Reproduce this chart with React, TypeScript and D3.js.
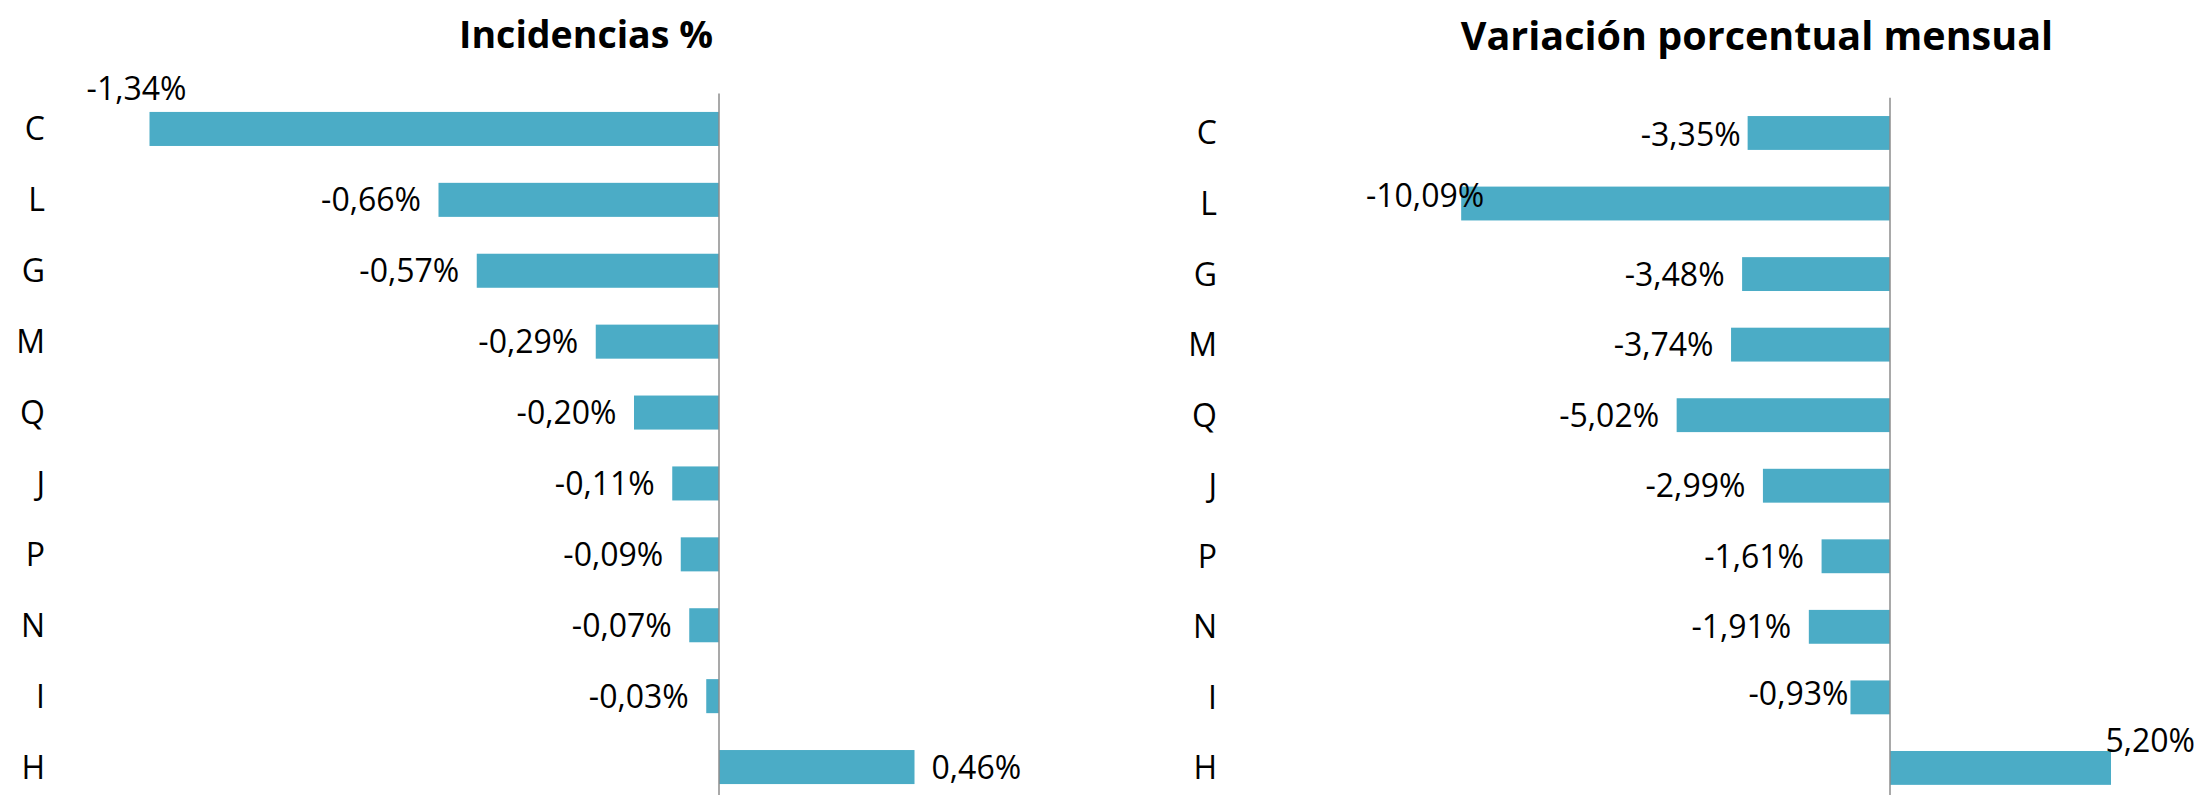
import React from "react";
import * as d3 from "d3";

// sectores, de arriba abajo
const categories = ["C", "L", "G", "M", "Q", "J", "P", "N", "I", "H"];
// incidencias en puntos porcentuales
const incidencias = [-1.34, -0.66, -0.57, -0.29, -0.2, -0.11, -0.09, -0.07, -0.03, 0.46];
// variación mensual en %
const variacion = [-3.35, -10.09, -3.48, -3.74, -5.02, -2.99, -1.61, -1.91, -0.93, 5.2];
const titles = ["Incidencias %", "Variación porcentual mensual"];

const W = 2201;
const H = 795;
const BAR = "#4BACC6";
const AXIS = "#8c8c8c";
const FONT = "'Open Sans', sans-serif";

const locale = d3.formatLocale({
  decimal: ",",
  thousands: ".",
  grouping: [3],
  currency: ["", " €"],
  minus: "-",
});
const fmt = (v: number) => locale.format(".2f")(v) + "%";

type Nudge = { dx: number; dy: number; anchor?: "start" | "end" };

// labels Excel moved by hand (offsets from the bar end / bar centre)
const leftNudges: Record<string, Nudge> = {
  C: { dx: 37, dy: -29, anchor: "end" },
};
const rightNudges: Record<string, Nudge> = {
  C: { dx: -7, dy: 13, anchor: "end" },
  L: { dx: 23, dy: 3.5, anchor: "end" },
  I: { dx: -2, dy: 8, anchor: "end" },
  H: { dx: 84, dy: -16, anchor: "end" },
};

type PanelProps = {
  title: string;
  titleX: number;
  titleY: number;
  titleSize: number;
  values: number[];
  domain: [number, number];
  xRange: [number, number];
  yRange: [number, number];
  labelGap: number;
  nudges: Record<string, Nudge>;
};

function Panel(p: PanelProps) {
  const x = d3.scaleLinear().domain(p.domain).range(p.xRange);
  const y = d3
    .scaleBand<string>()
    .domain(categories)
    .range(p.yRange)
    .paddingInner(0.52)
    .paddingOuter(0.26);
  const bw = y.bandwidth();
  const x0 = x(0);

  return (
    <g>
      <text
        x={p.titleX}
        y={p.titleY}
        textAnchor="middle"
        fontFamily={FONT}
        fontWeight={700}
        fontSize={p.titleSize}
        fill="#000"
      >
        {p.title}
      </text>

      {p.values.map((v, i) => {
        const c = categories[i];
        const y0 = y(c)!;
        return (
          <rect
            key={"b" + c}
            x={Math.min(x(v), x0)}
            y={y0}
            width={Math.abs(x(v) - x0)}
            height={bw}
            fill={BAR}
          />
        );
      })}

      <line x1={x0} x2={x0} y1={p.yRange[0]} y2={p.yRange[1]} stroke={AXIS} strokeWidth={1.5} />

      {categories.map((c) => (
        <text
          key={"c" + c}
          x={x0 - p.labelGap}
          y={y(c)! + bw / 2 + 11.5}
          textAnchor="end"
          fontFamily={FONT}
          fontSize={32}
          fill="#000"
        >
          {c}
        </text>
      ))}

      {p.values.map((v, i) => {
        const c = categories[i];
        const cy = y(c)! + bw / 2;
        const n = p.nudges[c];
        const def: Nudge = v < 0 ? { dx: -17.5, dy: 11.5, anchor: "end" } : { dx: 17, dy: 11.5, anchor: "start" };
        const k = n || def;
        return (
          <text
            key={"v" + c}
            x={x(v) + k.dx}
            y={cy + k.dy}
            textAnchor={k.anchor}
            fontFamily={FONT}
            fontSize={32}
            fill="#000"
          >
            {fmt(v)}
          </text>
        );
      })}
    </g>
  );
}

export default function App() {
  return (
    <svg
      width={W}
      height={H}
      style={{ position: "absolute", left: 0, top: 0, background: "#fff" }}
    >
      <rect width={W} height={H} fill="#fff" />
      <Panel
        title={titles[0]}
        titleX={586}
        titleY={48}
        titleSize={37.5}
        values={incidencias}
        domain={[-1.6, 0.6]}
        xRange={[39, 974]}
        yRange={[93.5, 802.5]}
        labelGap={674}
        nudges={leftNudges}
      />
      <Panel
        title={titles[1]}
        titleX={1757}
        titleY={50}
        titleSize={39.5}
        values={variacion}
        domain={[-12, 7]}
        xRange={[1380, 2187.5]}
        yRange={[97.7, 803.2]}
        labelGap={673}
        nudges={rightNudges}
      />
    </svg>
  );
}
